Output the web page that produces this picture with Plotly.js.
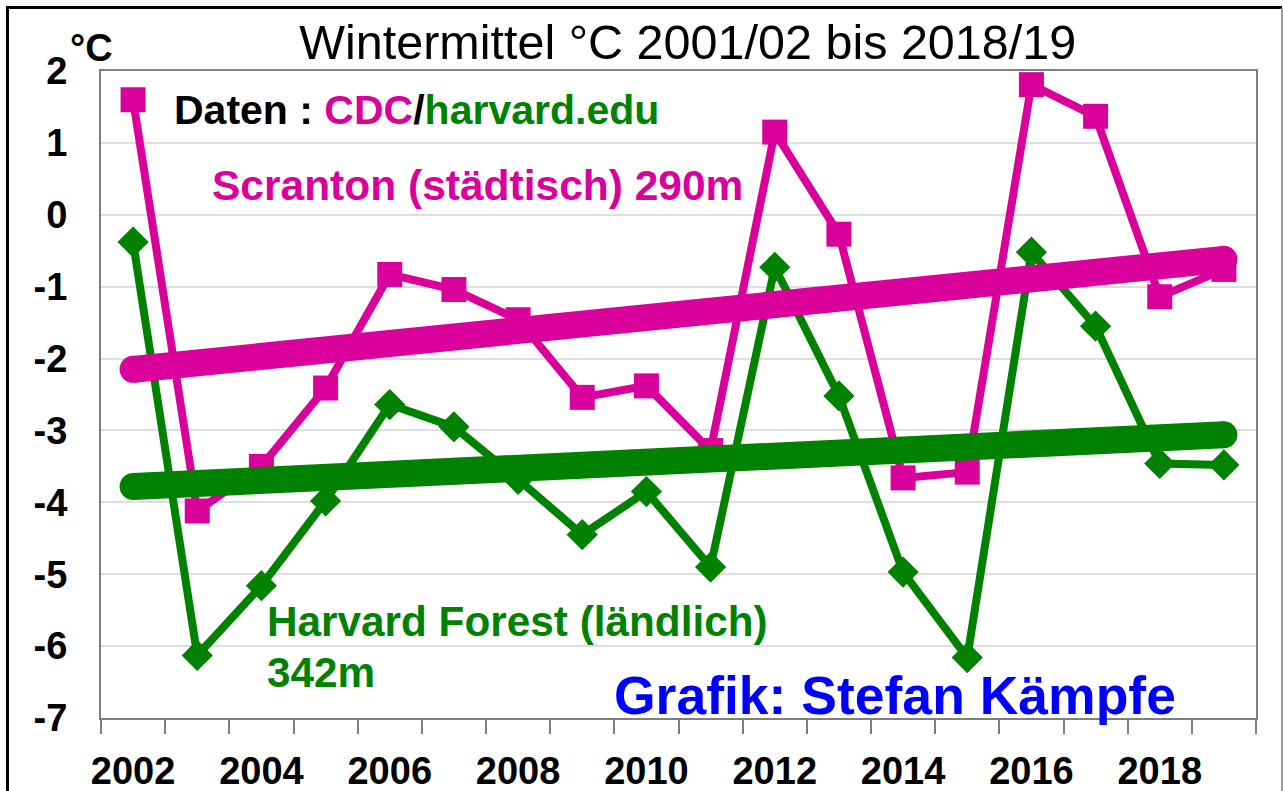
<!DOCTYPE html>
<html>
<head>
<meta charset="utf-8">
<script src="https://cdn.plot.ly/plotly-3.0.1.min.js"></script>
<style>
  html, body { margin: 0; padding: 0; background: #ffffff; }
  #chart { position: absolute; left: 0; top: 0; width: 1283px; height: 791px; }
  .frame { position: absolute; z-index: 10; pointer-events: none; }
</style>
</head>
<body>
<div id="chart"></div>
<div class="frame" style="left:6px; top:6px; width:1276px; height:3px; background:#000;"></div>
<div class="frame" style="left:6px; top:6px; width:3px; height:800px; background:#000;"></div>
<div class="frame" style="left:1281px; top:8px; width:2px; height:800px; background:#9a9a9a;"></div>
<script>
// Winters 2001/02 ... 2018/19, labelled by the year the winter ends
const years = [2002, 2003, 2004, 2005, 2006, 2007, 2008, 2009, 2010, 2011, 2012, 2013, 2014, 2015, 2016, 2017, 2018, 2019];
const scranton = [1.60, -4.12, -3.50, -2.41, -0.83, -1.04, -1.46, -2.54, -2.38, -3.28, 1.15, -0.27, -3.66, -3.58, 1.81, 1.37, -1.14, -0.76];
const harvard = [-0.38, -6.13, -5.16, -3.98, -2.64, -2.95, -3.68, -4.45, -3.85, -4.90, -0.73, -2.52, -4.97, -6.16, -0.52, -1.55, -3.46, -3.48];
const trendYears = [2002, 2019];
const trendScranton = [-2.15, -0.62];
const trendHarvard = [-3.78, -3.06];
const xTickVals = [2002, 2004, 2006, 2008, 2010, 2012, 2014, 2016, 2018];
const xTickText = ['2002', '2004', '2006', '2008', '2010', '2012', '2014', '2016', '2018'];
const yTickVals = [2, 1, 0, -1, -2, -3, -4, -5, -6, -7];
const yTickText = ['2', '1', '0', '-1', '-2', '-3', '-4', '-5', '-6', '-7'];

const MAGENTA = '#D9009B';
const GREEN = '#008200';
const FONT = 'Liberation Sans, Arial, sans-serif';

const boundaries = years.map(y => y - 0.5).concat([years[years.length - 1] + 0.5]);

const traces = [
  {
    x: years, y: scranton, type: 'scatter', mode: 'lines+markers', name: 'Scranton',
    line: { color: MAGENTA, width: 8 },
    marker: { symbol: 'square', size: 25, color: MAGENTA },
    hoverinfo: 'x+y'
  },
  {
    x: years, y: harvard, type: 'scatter', mode: 'lines+markers', name: 'Harvard Forest',
    line: { color: GREEN, width: 8 },
    marker: { symbol: 'diamond', size: 24, color: GREEN },
    hoverinfo: 'x+y'
  },
  {
    x: trendYears, y: trendHarvard, type: 'scatter', mode: 'lines+markers', name: 'Trend Harvard',
    line: { color: GREEN, width: 27 },
    marker: { symbol: 'circle', size: 27, color: GREEN },
    hoverinfo: 'skip'
  },
  {
    x: trendYears, y: trendScranton, type: 'scatter', mode: 'lines+markers', name: 'Trend Scranton',
    line: { color: MAGENTA, width: 27 },
    marker: { symbol: 'circle', size: 27, color: MAGENTA },
    hoverinfo: 'skip'
  }
];

const boldAnn = (text, x, y, size, color) => ({
  xref: 'paper', yref: 'paper', x: x, y: y, xanchor: 'left', yanchor: 'middle',
  text: '<b>' + text + '</b>', showarrow: false,
  font: { family: FONT, size: size, color: color }
});

const layout = {
  width: 1283, height: 791,
  margin: { l: 101, r: 27, t: 71, b: 73, pad: 0 },
  paper_bgcolor: '#ffffff', plot_bgcolor: '#ffffff',
  showlegend: false,
  title: {
    text: 'Wintermittel °C 2001/02 bis 2018/19',
    font: { family: FONT, size: 48.5, color: '#000000' },
    xref: 'paper', x: 0.508, xanchor: 'center',
    yref: 'container', y: 0.947, yanchor: 'middle'
  },
  xaxis: {
    range: [2001.5, 2019.5], fixedrange: true,
    tickmode: 'array', tickvals: xTickVals, ticktext: xTickText,
    ticks: '', showgrid: false, zeroline: false,
    showline: true, linecolor: '#7f7f7f', linewidth: 2, mirror: true,
    tickfont: { family: FONT, size: 38, color: '#000000', weight: 'bold' },
    ticklabelstandoff: 18,
    minor: { tickmode: 'array', tickvals: boundaries, ticks: 'outside', ticklen: 14, tickwidth: 2, tickcolor: '#7f7f7f', showgrid: false }
  },
  yaxis: {
    range: [-7, 2], fixedrange: true,
    tickmode: 'array', tickvals: yTickVals, ticktext: yTickText,
    ticks: '', showgrid: true, gridcolor: '#dedede', gridwidth: 2, zeroline: false,
    showline: true, linecolor: '#7f7f7f', linewidth: 2, mirror: true,
    tickfont: { family: FONT, size: 38, color: '#000000', weight: 'bold' },
    ticklabelstandoff: 24
  },
  annotations: [
    boldAnn('Daten : <span style="color:' + MAGENTA + '">CDC</span>/<span style="color:' + GREEN + '">harvard.edu</span>', 0.0615, 0.9397, 41, '#000000'),
    boldAnn('Scranton (städtisch) 290m', 0.0944, 0.8238, 42.5, MAGENTA),
    boldAnn('Harvard Forest (ländlich)', 0.142, 0.1484, 42.3, GREEN),
    boldAnn('342m', 0.142, 0.0696, 42.3, GREEN),
    boldAnn('Grafik: Stefan Kämpfe', 0.4424, 0.0355, 53.5, '#0000FF'),
    boldAnn('°C', -0.0286, 1.036, 38, '#000000')
  ]
};

Plotly.newPlot('chart', traces, layout, { displayModeBar: false, staticPlot: true });
</script>
</body>
</html>
